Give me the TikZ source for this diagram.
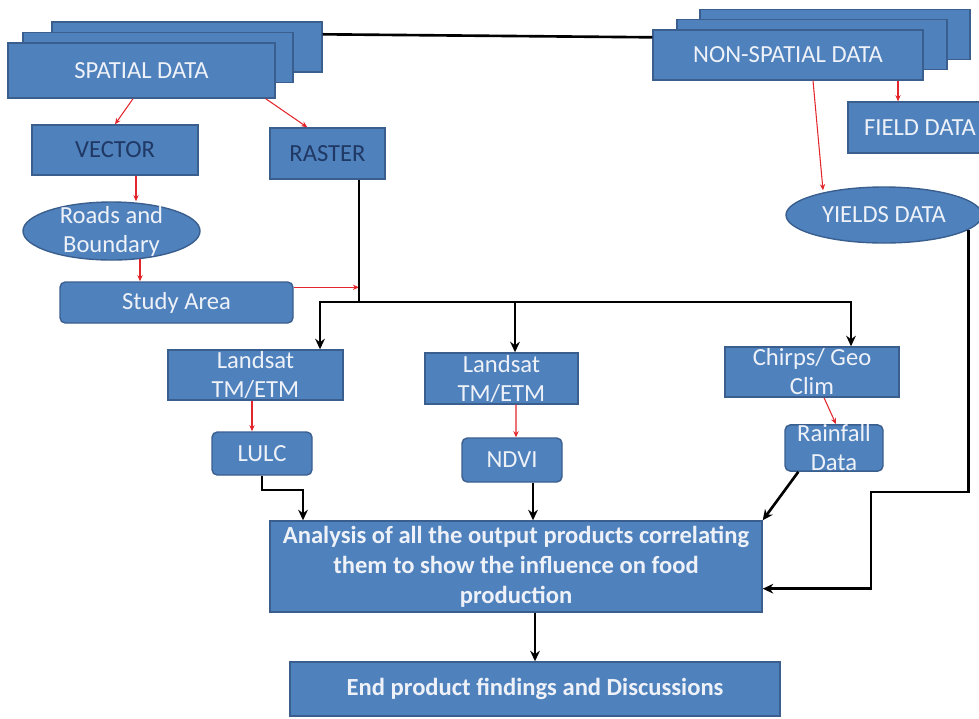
\documentclass[tikz,border=0pt]{standalone}
\usepackage{fontspec}
\setmainfont{Carlito}
\usetikzlibrary{shapes.geometric,arrows.meta,calc}
\definecolor{boxfill}{HTML}{4F81BD}
\definecolor{boxline}{HTML}{3A5F8F}
\definecolor{darktext}{HTML}{1F3864}
\definecolor{paletext}{HTML}{EEF2F8}
\definecolor{linkred}{HTML}{E3262B}

\tikzset{basic/.style={draw=boxline,fill=boxfill,text=paletext,line width=0.8pt,
                       inner sep=0pt,align=center,font=\fontsize{14}{16.5}\selectfont}}
\tikzset{sz/.style 2 args={minimum width=#1*0.02cm,minimum height=#2*0.02cm}}
\tikzset{box/.style={basic,rectangle}}
\tikzset{roundbox/.style={basic,rectangle,rounded corners=3pt}}
\tikzset{oval/.style={basic,ellipse}}
\tikzset{stack/.style={box,sz={270}{50}}}
\tikzset{boldtext/.style={font=\bfseries\fontsize{14}{17}\selectfont}}
\tikzset{link/.style={draw=black,line width=1.5pt}}
\tikzset{redarrow/.style={draw=linkred,line width=0.6pt,-{Stealth[length=3.5pt,width=3pt]}}}
\tikzset{blackarrow/.style={link,-{Stealth[length=6pt,width=5.5pt]}}}

\begin{document}
\begin{tikzpicture}[x=0.02cm,y=-0.02cm]
        \useasboundingbox (0,0) rectangle (979,718);
        % spatial side
        \node[stack] (sp3) at (187,47) {};
        \node[stack] (sp2) at (158,57.5) {};
        \node[stack,sz={267}{55}] (sp) at (141.5,70.5) {SPATIAL DATA};
        \node[box,sz={166}{50},text=darktext] (vector) at (115,150) {VECTOR};
        \node[box,sz={115}{51},text=darktext] (raster) at (327.5,153.5) {RASTER};
        \node[oval,sz={177}{58},label={[text=paletext,align=center,
              font=\fontsize{14}{16.5}\selectfont]center:Roads and\\Boundary}]
              (roads) at (111.5,231) {};
        \node[roundbox,sz={233}{41}] (study) at (176.5,302.5) {Study Area};
        % non-spatial side
        \node[stack] (ns3) at (835,34.5) {};
        \node[stack] (ns2) at (812,44.5) {};
        \node[stack] (ns) at (788,55) {NON-SPATIAL DATA};
        \node[box,sz={144}{51}] (field) at (920,127.5) {FIELD DATA};
        \node[oval,sz={196}{56}] (yields) at (884,215) {YIELDS DATA};
        % sources and products
        \node[box,sz={175}{50}] (lsa) at (255.5,375) {Landsat\\TM/ETM};
        \node[box,sz={153}{51}] (lsb) at (501.5,378.5) {Landsat\\TM/ETM};
        \node[box,sz={174}{50}] (chirps) at (812,372) {Chirps/ Geo\\Clim};
        \node[roundbox,sz={100}{43}] (lulc) at (262,453.5) {LULC};
        \node[roundbox,sz={100}{44}] (ndvi) at (512,460) {NDVI};
        \node[roundbox,sz={98}{42}] (rain) at (834,448) {Rainfall\\Data};
        \node[box,sz={492}{91},boldtext] (analysis) at (516,566.5)
              {Analysis of all the output products correlating\\
               them to show the influence on food\\production};
        \node[box,sz={490}{54},boldtext] (endbox) at (535,689)
              {End product findings and Discussions};

        % red links
        \draw[link] ([yshift=-0.26cm]sp3.north east) -- ([yshift=-0.16cm]ns.north west);
        \draw[redarrow] ([xshift=-0.17cm]sp.south) -- (vector.north);
        \draw[redarrow] ([xshift=-0.2cm]sp.south east) -- ([xshift=0.76cm]raster.north west);
        \coordinate (vb) at ($(vector.south)+(21,0)$);
        \draw[redarrow] (vb) -- (vb |- roads.north);
        \coordinate (rb) at ($(roads.south)+(28.5,-1.5)$);
        \draw[redarrow] (rb) -- (rb |- study.north);
        \coordinate (fa) at ($(field.north)+(-22,0)$);
        \draw[redarrow] (fa |- ns.south) -- (fa);
        \draw[redarrow] ($(ns.south)+(25,0)$) -- ($(yields.north)+(-61,4)$);
        \coordinate (hub) at (359,302);
        \coordinate (sa) at ($(study.north east)+(0,6)$);
        \draw[redarrow] (sa) -- (sa -| hub);
        \draw[redarrow] ($(lsa.south)+(-3.5,0)$) -- ($(lulc.north)+(-10,0)$);
        \draw[redarrow] ($(lsb.south)+(14.5,0)$) -- ($(ndvi.north)+(4,0)$);
        \draw[redarrow] ($(chirps.south)+(12,0)$) -- ($(rain.north)+(2,0)$);

        % black links
        \draw[link] (hub |- raster.south) -- (hub);
        \foreach \n/\p in {lsa/320,lsb/515,chirps/851}{%
              \coordinate (j\n) at (\p,302);
              \draw[blackarrow] (j\n) -- (j\n |- \n.north);
            }
        \draw[link,line cap=rect] (jlsa) -- (jchirps);
        \coordinate (lb) at (303,490);
        \draw[blackarrow] (lulc.south) |- (lb) -- (lb |- analysis.north);
        \coordinate (nb) at ($(ndvi.south)+(21,0)$);
        \draw[blackarrow] (nb) -- (nb |- analysis.north);
        \draw[blackarrow] ($(rain.south west)+(14,0)$) -- (analysis.north east);
        \coordinate (yb) at (871,492);
        \draw[blackarrow] (yields.-10) |- (yb) |- ($(analysis.south east)!0.26!(analysis.north east)$);
        \draw[blackarrow] (endbox.north |- analysis.south) -- (endbox.north);
\end{tikzpicture}
\end{document}
